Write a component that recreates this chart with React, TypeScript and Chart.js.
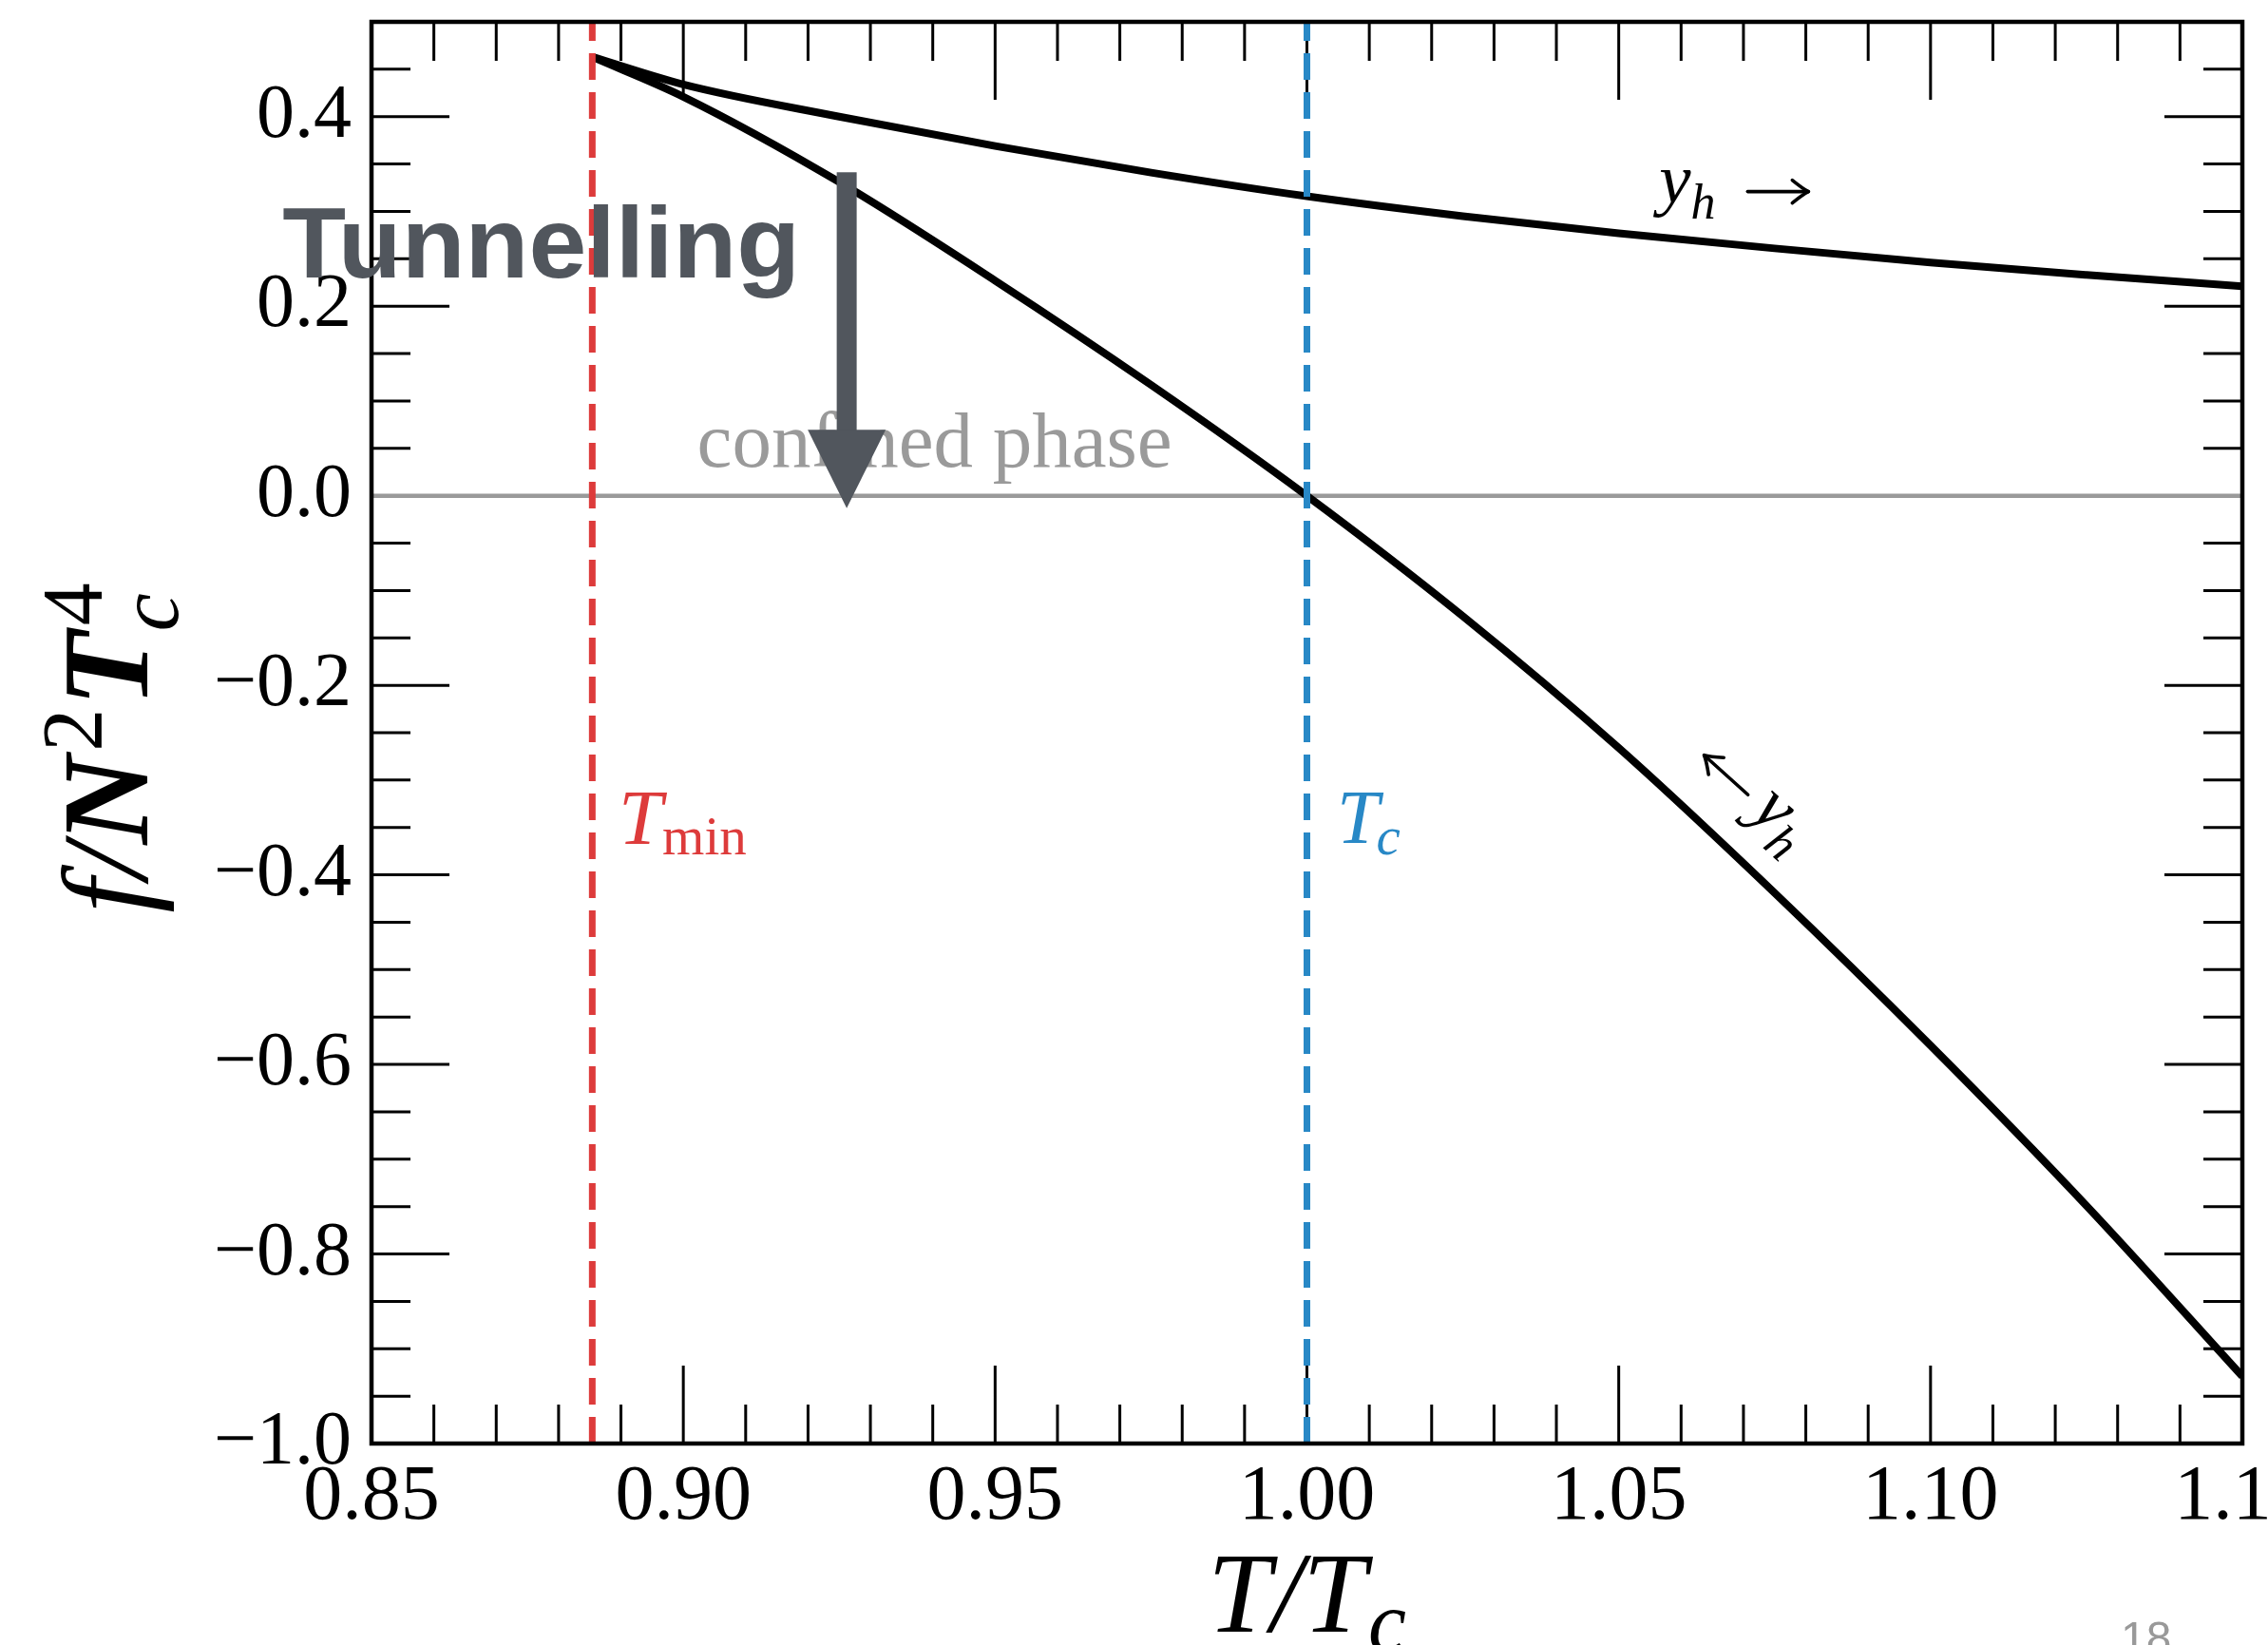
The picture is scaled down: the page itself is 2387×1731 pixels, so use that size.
import React, { useEffect, useRef } from 'react';
import { Chart, registerables } from 'chart.js';

Chart.register(...registerables);

// ---------- canvas / axis ranges ----------
const W = 2387;
const H = 1731;
const X_MIN = 0.85;
const X_MAX = 1.15;
const Y_MIN = -1.0;
const Y_MAX = 0.5;
const X_MAJOR = 0.05;
const X_MINOR = 0.01;
const Y_MAJOR = 0.2;
const Y_MINOR = 0.05;

// ---------- data ----------
const T_MIN = 0.8854;
const T_C = 1.0;
const ZERO_LEVEL = 0.0;
const X_BRANCH = [0.8854, 0.9, 0.925, 0.95, 0.975, 1.0, 1.025, 1.05, 1.075, 1.1, 1.125, 1.15];
const Y_UPPER = [0.463, 0.434, 0.4, 0.369, 0.341, 0.316, 0.295, 0.277, 0.261, 0.246, 0.233, 0.221];
const Y_LOWER = [0.463, 0.421, 0.331, 0.227, 0.117, 0.0, -0.127, -0.266, -0.419, -0.58, -0.749, -0.929];

// ---------- styles ----------
const SERIF = "'Liberation Serif', 'Times New Roman', serif";
const SANS = "'Liberation Sans', Arial, sans-serif";
const RED = '#dd3b3b';
const BLUE = '#2888c6';
const GREY = '#9a9a9a';
const SLATE = '#51565d';

const ital = (s: number) => `italic ${s}px ${SERIF}`;
const boldItal = (s: number) => `italic bold ${s}px ${SERIF}`;
const up = (s: number) => `${s}px ${SERIF}`;

type Seg = { t: string; font: string; dx?: number; dy?: number; stack?: boolean };

function layoutRich(ctx: CanvasRenderingContext2D, segs: Seg[]) {
  let cursor = 0;
  let prevStart = 0;
  const pos: number[] = [];
  segs.forEach((s) => {
    ctx.font = s.font;
    const w = ctx.measureText(s.t).width;
    const start = s.stack ? prevStart : cursor;
    const x = start + (s.dx || 0);
    pos.push(x);
    if (s.stack) {
      cursor = Math.max(cursor, x + w);
    } else {
      cursor = x + w;
      prevStart = start;
    }
  });
  return { pos, width: cursor };
}

function drawRich(
  ctx: CanvasRenderingContext2D,
  segs: Seg[],
  x: number,
  y: number,
  align: 'left' | 'center',
  color: string
) {
  const { pos, width } = layoutRich(ctx, segs);
  const x0 = align === 'center' ? x - width / 2 : x;
  ctx.fillStyle = color;
  ctx.textAlign = 'left';
  ctx.textBaseline = 'alphabetic';
  segs.forEach((s, i) => {
    ctx.font = s.font;
    ctx.fillText(s.t, x0 + pos[i], y + (s.dy || 0));
  });
  return width;
}

// TeX-like thin arrow from (x1,y1) to tip (x2,y2)
function texArrow(ctx: CanvasRenderingContext2D, x1: number, y1: number, x2: number, y2: number, color: string) {
  const ang = Math.atan2(y2 - y1, x2 - x1);
  const hl = 17;
  const hw = 12;
  ctx.save();
  ctx.strokeStyle = color;
  ctx.lineWidth = 3.6;
  ctx.lineCap = 'round';
  ctx.lineJoin = 'round';
  ctx.beginPath();
  ctx.moveTo(x1, y1);
  ctx.lineTo(x2, y2);
  ctx.stroke();
  ctx.translate(x2, y2);
  ctx.rotate(ang);
  ctx.beginPath();
  ctx.moveTo(-hl, -hw);
  ctx.quadraticCurveTo(-hl * 0.35, -hw * 0.25, 0, 0);
  ctx.quadraticCurveTo(-hl * 0.35, hw * 0.25, -hl, hw);
  ctx.stroke();
  ctx.restore();
}

const framePlugin = {
  id: 'frameTicks',
  beforeDatasetsDraw(chart: any) {
    const ctx: CanvasRenderingContext2D = chart.ctx;
    const { left, right, top, bottom } = chart.chartArea;
    const xs = chart.scales.x;
    const ys = chart.scales.y;
    const MAJ = 82;
    const MIN = 41;
    ctx.save();
    ctx.strokeStyle = '#000';
    ctx.lineCap = 'butt';
    ctx.lineWidth = 3;
    ctx.beginPath();
    const kx0 = Math.round(X_MIN / X_MINOR);
    const kx1 = Math.round(X_MAX / X_MINOR);
    const perX = Math.round(X_MAJOR / X_MINOR);
    for (let k = kx0; k <= kx1; k++) {
      const px = xs.getPixelForValue(k * X_MINOR);
      const len = k % perX === 0 ? MAJ : MIN;
      ctx.moveTo(px, bottom);
      ctx.lineTo(px, bottom - len);
      ctx.moveTo(px, top);
      ctx.lineTo(px, top + len);
    }
    const ky0 = Math.round(Y_MIN / Y_MINOR);
    const ky1 = Math.round(Y_MAX / Y_MINOR);
    const perY = Math.round(Y_MAJOR / Y_MINOR);
    for (let k = ky0; k <= ky1; k++) {
      const py = ys.getPixelForValue(k * Y_MINOR);
      const len = Math.abs(k % perY) === 0 ? MAJ : MIN;
      ctx.moveTo(left, py);
      ctx.lineTo(left + len, py);
      ctx.moveTo(right, py);
      ctx.lineTo(right - len, py);
    }
    ctx.stroke();
    ctx.restore();
  },
  afterDatasetsDraw(chart: any) {
    const ctx: CanvasRenderingContext2D = chart.ctx;
    const { left, right, top, bottom } = chart.chartArea;
    ctx.save();
    ctx.strokeStyle = '#000';
    ctx.lineWidth = 4.5;
    ctx.strokeRect(left, top, right - left, bottom - top);
    ctx.restore();
  },
  afterDraw(chart: any) {
    const ctx: CanvasRenderingContext2D = chart.ctx;
    const xs = chart.scales.x;
    const ys = chart.scales.y;
    const X = (v: number) => xs.getPixelForValue(v);
    const Y = (v: number) => ys.getPixelForValue(v);
    const { left, right } = chart.chartArea;
    ctx.save();

    // confined phase
    ctx.font = up(83);
    ctx.fillStyle = GREY;
    ctx.textAlign = 'left';
    ctx.textBaseline = 'alphabetic';
    ctx.fillText('confined phase', X(0.9022), Y(0.0311));

    // T_min and T_c labels
    drawRich(ctx, [{ t: 'T', font: ital(83) }, { t: 'min', font: up(57), dy: 11, dx: 0 }], X(0.8896), Y(-0.3671), 'left', RED);
    drawRich(ctx, [{ t: 'T', font: ital(80) }, { t: 'c', font: ital(57), dy: 12, dx: -3 }], X(1.0048), Y(-0.3661), 'left', BLUE);

    // y_h ->
    const ax0 = X(1.0565);
    const ay0 = Y(0.3099);
    drawRich(ctx, [{ t: 'y', font: ital(75) }, { t: 'h', font: ital(52), dy: 17 }], ax0, ay0, 'left', '#000');
    texArrow(ctx, ax0 + 93, ay0 - 11, ax0 + 157, ay0 - 11, '#000');

    // <- y_h along lower branch
    ctx.save();
    ctx.translate(X(1.0637), Y(-0.2738));
    ctx.rotate((42 * Math.PI) / 180);
    texArrow(ctx, 62, 0, 0, 0, '#000');
    drawRich(
      ctx,
      [
        { t: 'y', font: ital(75) },
        { t: 'h', font: ital(52), dy: 17 },
      ],
      76,
      14,
      'left',
      '#000'
    );
    ctx.restore();

    // axis titles
    drawRich(ctx, [{ t: 'T/T', font: ital(120) }, { t: 'c', font: ital(90), dy: 20, dx: 2 }], (left + right) / 2, 1717, 'center', '#000');
    ctx.save();
    ctx.translate(155, 787);
    ctx.rotate(-Math.PI / 2);
    drawRich(
      ctx,
      [
        { t: 'f', font: ital(130) },
        { t: '/', font: ital(130) },
        { t: 'N', font: boldItal(130) },
        { t: '2', font: up(90), dy: -48, dx: 4 },
        { t: 'T', font: boldItal(130), dx: 2 },
        { t: '4', font: up(90), dy: -48, dx: 6 },
        { t: 'c', font: ital(90), dy: 32, stack: true },
      ],
      0,
      0,
      'center',
      '#000'
    );
    ctx.restore();

    // Tunnelling overlay
    ctx.font = `bold 106px ${SANS}`;
    ctx.fillStyle = SLATE;
    const tw = ctx.measureText('Tunnelling').width;
    ctx.save();
    ctx.translate(X(0.8357), Y(0.2307));
    ctx.scale(545 / tw, 1);
    ctx.fillText('Tunnelling', 0, 0);
    ctx.restore();

    // arrow
    const ax = X(0.9262);
    const aTop = Y(0.3413);
    const aBase = Y(0.0695);
    const aTip = Y(-0.013);
    ctx.fillStyle = SLATE;
    ctx.fillRect(ax - 10.5, aTop, 21, aBase - aTop + 1);
    ctx.beginPath();
    ctx.moveTo(ax - 41, aBase);
    ctx.lineTo(ax + 41, aBase);
    ctx.lineTo(ax, aTip);
    ctx.closePath();
    ctx.fill();

    // page number
    ctx.font = `48px ${SANS}`;
    ctx.fillStyle = '#999';
    ctx.fillText('18', 2232, 1740);

    ctx.restore();
  },
};

function pts(xs: number[], ys: number[]) {
  return xs.map((x, i) => ({ x, y: ys[i] }));
}

export default function App() {
  const ref = useRef<HTMLCanvasElement>(null);
  useEffect(() => {
    const canvas = ref.current;
    if (!canvas) return;
    const chart = new Chart(canvas, {
      type: 'line',
      data: {
        datasets: [
          {
            label: 'Tmin',
            data: [{ x: T_MIN, y: Y_MIN }, { x: T_MIN, y: Y_MAX }],
            borderColor: RED,
            borderWidth: 7,
            borderDash: [28, 13],
            pointRadius: 0,
            tension: 0,
            order: 0,
          },
          {
            label: 'Tc',
            data: [{ x: T_C, y: Y_MIN }, { x: T_C, y: Y_MAX }],
            borderColor: BLUE,
            borderWidth: 7,
            borderDash: [28, 13],
            pointRadius: 0,
            tension: 0,
            order: 0,
          },
          {
            label: 'upper',
            data: pts(X_BRANCH, Y_UPPER),
            borderColor: '#000',
            borderWidth: 8,
            pointRadius: 0,
            cubicInterpolationMode: 'monotone',
            borderJoinStyle: 'round',
            order: 1,
          },
          {
            label: 'lower',
            data: pts(X_BRANCH, Y_LOWER),
            borderColor: '#000',
            borderWidth: 8,
            pointRadius: 0,
            cubicInterpolationMode: 'monotone',
            borderJoinStyle: 'round',
            order: 1,
          },
          {
            label: 'zero',
            data: [{ x: X_MIN, y: ZERO_LEVEL }, { x: X_MAX, y: ZERO_LEVEL }],
            borderColor: GREY,
            borderWidth: 4.5,
            pointRadius: 0,
            tension: 0,
            order: 2,
          },
        ],
      },
      options: {
        responsive: false,
        animation: false,
        devicePixelRatio: 1,
        layout: { padding: { left: 0, right: 27, top: 23, bottom: 0 } },
        plugins: { legend: { display: false }, tooltip: { enabled: false } },
        events: [],
        scales: {
          x: {
            type: 'linear',
            min: X_MIN,
            max: X_MAX,
            grid: { display: false, drawTicks: false },
            border: { display: false },
            ticks: {
              stepSize: X_MAJOR,
              autoSkip: false,
              maxRotation: 0,
              minRotation: 0,
              padding: 8,
              color: '#000',
              font: { family: SERIF, size: 82 },
              callback: (v: any) => Number(v).toFixed(2),
            },
            afterFit: (s: any) => {
              s.height = H - 1519;
              s.paddingLeft = 0;
              s.paddingRight = 0;
            },
          },
          y: {
            type: 'linear',
            min: Y_MIN,
            max: Y_MAX,
            grid: { display: false, drawTicks: false },
            border: { display: false },
            ticks: {
              stepSize: Y_MAJOR,
              autoSkip: false,
              padding: 21,
              color: '#000',
              font: { family: SERIF, size: 80 },
              callback: (v: any) => {
                const n = Number(v);
                if (Math.abs(n - Y_MAX) < 1e-9) return '';
                const s = Math.abs(n).toFixed(1);
                return n < -1e-9 ? '\u2212' + s : s;
              },
            },
            afterFit: (s: any) => {
              s.width = 391;
              s.paddingTop = 0;
              s.paddingBottom = 0;
            },
          },
        },
      } as any,
      plugins: [framePlugin],
    });
    return () => chart.destroy();
  }, []);
  return (
    <div style={{ position: 'fixed', left: 0, top: 0, width: W, height: H, background: '#fff' }}>
      <canvas ref={ref} width={W} height={H} style={{ display: 'block', width: `${W}px`, height: `${H}px` }} />
    </div>
  );
}
